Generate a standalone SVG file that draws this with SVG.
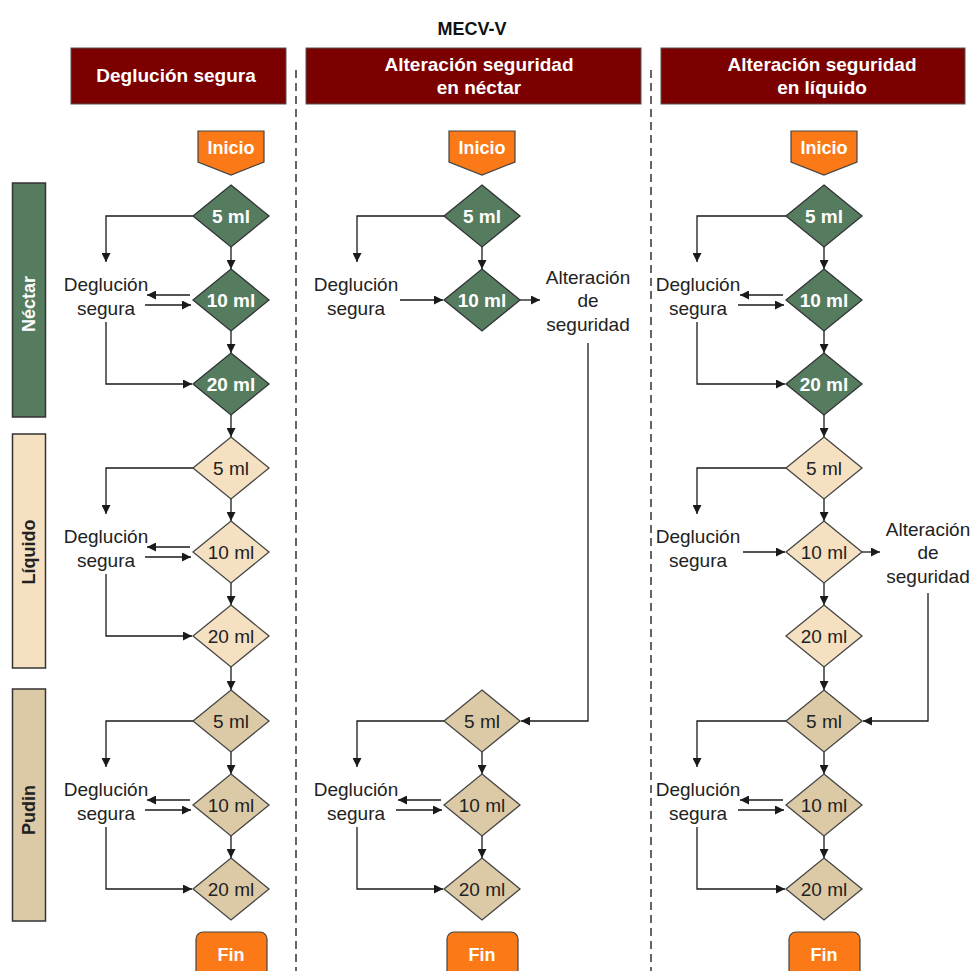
<svg xmlns="http://www.w3.org/2000/svg" width="974" height="971" viewBox="0 0 974 971">
<defs>
<marker id="ah" markerWidth="9" markerHeight="9" refX="9" refY="4.5" orient="auto" markerUnits="userSpaceOnUse">
<path d="M0,0 L9,4.5 L0,9 z" fill="#1a1a1a"/>
</marker>
<style>
.hdr{fill:#7b0000;stroke:#555;stroke-width:1}
.ht{font-family:"Liberation Sans",Arial,sans-serif;font-weight:bold;font-size:19px;fill:#fff;text-anchor:middle}
.title{font-family:"Liberation Sans",Arial,sans-serif;font-weight:bold;font-size:18px;fill:#111;text-anchor:middle}
.org{fill:#fb7a17;stroke:#444;stroke-width:1.2}
.ot{font-family:"Liberation Sans",Arial,sans-serif;font-weight:bold;font-size:18px;fill:#fff;text-anchor:middle}
.dn{fill:#557c5f;stroke:#333;stroke-width:1.3}
.dl{fill:#f5e1c2;stroke:#444;stroke-width:1.3}
.dp{fill:#dccaa7;stroke:#444;stroke-width:1.3}
.tn{font-family:"Liberation Sans",Arial,sans-serif;font-weight:bold;font-size:19px;fill:#fff;text-anchor:middle}
.tl{font-family:"Liberation Sans",Arial,sans-serif;font-size:19px;fill:#222;text-anchor:middle}
.lab{font-family:"Liberation Sans",Arial,sans-serif;font-size:19px;fill:#222;text-anchor:middle}
.bar{stroke:#333;stroke-width:1.5}
.bt{font-family:"Liberation Sans",Arial,sans-serif;font-weight:bold;font-size:18px;text-anchor:middle}
.c{fill:none;stroke:#1a1a1a;stroke-width:1.3}
.a{fill:none;stroke:#1a1a1a;stroke-width:1.3;marker-end:url(#ah)}
.dash{fill:none;stroke:#333;stroke-width:1.5;stroke-dasharray:8 5}
</style>
</defs>

<text class="title" x="472" y="35">MECV-V</text>

<g id="dividers">
<line class="dash" x1="296" y1="70" x2="296" y2="971"/>
<line class="dash" x1="651" y1="70" x2="651" y2="971"/>
</g>

<g id="header1"><rect class="hdr" x="71" y="48" width="215" height="56"/><text class="ht" x="176" y="82">Deglución segura</text></g>
<g id="header2"><rect class="hdr" x="306" y="48" width="335" height="56"/><text class="ht" x="479" y="71">Alteración seguridad</text><text class="ht" x="479" y="94">en néctar</text></g>
<g id="header3"><rect class="hdr" x="661" y="48" width="304" height="56"/><text class="ht" x="822" y="71">Alteración seguridad</text><text class="ht" x="822" y="94">en líquido</text></g>

<g id="bar-nectar"><rect class="bar" x="12.5" y="183" width="33" height="234" fill="#557c5f"/><text class="bt" fill="#fff" transform="translate(35,304) rotate(-90)">Néctar</text></g>
<g id="bar-liquido"><rect class="bar" x="12.5" y="434" width="33" height="234" fill="#f5e1c2"/><text class="bt" fill="#222" transform="translate(35,552) rotate(-90)">Líquido</text></g>
<g id="bar-pudin"><rect class="bar" x="12.5" y="689" width="33" height="232" fill="#dccaa7"/><text class="bt" fill="#222" transform="translate(35,810) rotate(-90)">Pudin</text></g>

<g id="connectors">
<path class="a" d="M231,247 V269"/>
<path class="a" d="M231,331 V353"/>
<path class="a" d="M231,415 V437"/>
<path class="a" d="M231,499 V521"/>
<path class="a" d="M231,583 V605"/>
<path class="a" d="M231,667 V690"/>
<path class="a" d="M231,752 V774"/>
<path class="a" d="M231,836 V858"/>
<path class="a" d="M193,216 H106 V262"/>
<path class="a" d="M190,295 H147"/>
<path class="a" d="M145,305 H191"/>
<path class="a" d="M106,322 V384 H192"/>
<path class="a" d="M193,468 H106 V514"/>
<path class="a" d="M190,547 H147"/>
<path class="a" d="M145,557 H191"/>
<path class="a" d="M106,574 V636 H192"/>
<path class="a" d="M193,721 H106 V767"/>
<path class="a" d="M190,800 H147"/>
<path class="a" d="M145,810 H191"/>
<path class="a" d="M106,827 V889 H192"/>

<path class="a" d="M482,247 V269"/>
<path class="a" d="M444,216 H357 V262"/>
<path class="a" d="M400,300 H443"/>
<path class="a" d="M520,300 H540"/>
<path class="a" d="M588,343 V721 H521"/>
<path class="a" d="M482,752 V774"/>
<path class="a" d="M482,836 V858"/>
<path class="a" d="M444,721 H357 V767"/>
<path class="a" d="M441,800 H398"/>
<path class="a" d="M396,810 H442"/>
<path class="a" d="M357,827 V889 H443"/>

<path class="a" d="M824,247 V269"/>
<path class="a" d="M824,331 V353"/>
<path class="a" d="M824,415 V437"/>
<path class="a" d="M824,499 V521"/>
<path class="a" d="M824,583 V605"/>
<path class="a" d="M824,667 V690"/>
<path class="a" d="M824,752 V774"/>
<path class="a" d="M824,836 V858"/>
<path class="a" d="M786,216 H697 V262"/>
<path class="a" d="M783,295 H740"/>
<path class="a" d="M738,305 H784"/>
<path class="a" d="M697,322 V384 H785"/>
<path class="a" d="M786,468 H697 V514"/>
<path class="a" d="M743,552 H785"/>
<path class="a" d="M862,552 H880"/>
<path class="a" d="M928,593 V721 H863"/>
<path class="a" d="M786,721 H697 V767"/>
<path class="a" d="M783,800 H740"/>
<path class="a" d="M738,810 H784"/>
<path class="a" d="M697,827 V889 H785"/>
</g>

<g id="inicio1"><path class="org" d="M198,131 H264 V162 L231,175 L198,162 Z"/><text class="ot" x="231" y="154">Inicio</text></g>
<g id="inicio2"><path class="org" d="M449,131 H515 V162 L482,175 L449,162 Z"/><text class="ot" x="482" y="154">Inicio</text></g>
<g id="inicio3"><path class="org" d="M791,131 H857 V162 L824,175 L791,162 Z"/><text class="ot" x="824" y="154">Inicio</text></g>
<g id="fin1"><rect class="org" x="196" y="932" width="71" height="60" rx="7"/><text class="ot" x="231" y="961">Fin</text></g>
<g id="fin2"><rect class="org" x="447" y="932" width="71" height="60" rx="7"/><text class="ot" x="482" y="961">Fin</text></g>
<g id="fin3"><rect class="org" x="789" y="932" width="71" height="60" rx="7"/><text class="ot" x="824" y="961">Fin</text></g>

<g id="c1n5"><path class="dn" d="M231,185 L269,216 L231,247 L193,216 Z"/><text class="tn" x="231" y="223">5 ml</text></g>
<g id="c1n10"><path class="dn" d="M231,269 L269,300 L231,331 L193,300 Z"/><text class="tn" x="231" y="307">10 ml</text></g>
<g id="c1n20"><path class="dn" d="M231,353 L269,384 L231,415 L193,384 Z"/><text class="tn" x="231" y="391">20 ml</text></g>
<g id="c1l5"><path class="dl" d="M231,437 L269,468 L231,499 L193,468 Z"/><text class="tl" x="231" y="475">5 ml</text></g>
<g id="c1l10"><path class="dl" d="M231,521 L269,552 L231,583 L193,552 Z"/><text class="tl" x="231" y="559">10 ml</text></g>
<g id="c1l20"><path class="dl" d="M231,605 L269,636 L231,667 L193,636 Z"/><text class="tl" x="231" y="643">20 ml</text></g>
<g id="c1p5"><path class="dp" d="M231,690 L269,721 L231,752 L193,721 Z"/><text class="tl" x="231" y="728">5 ml</text></g>
<g id="c1p10"><path class="dp" d="M231,774 L269,805 L231,836 L193,805 Z"/><text class="tl" x="231" y="812">10 ml</text></g>
<g id="c1p20"><path class="dp" d="M231,858 L269,889 L231,920 L193,889 Z"/><text class="tl" x="231" y="896">20 ml</text></g>

<g id="c2n5"><path class="dn" d="M482,185 L520,216 L482,247 L444,216 Z"/><text class="tn" x="482" y="223">5 ml</text></g>
<g id="c2n10"><path class="dn" d="M482,269 L520,300 L482,331 L444,300 Z"/><text class="tn" x="482" y="307">10 ml</text></g>
<g id="c2p5"><path class="dp" d="M482,690 L520,721 L482,752 L444,721 Z"/><text class="tl" x="482" y="728">5 ml</text></g>
<g id="c2p10"><path class="dp" d="M482,774 L520,805 L482,836 L444,805 Z"/><text class="tl" x="482" y="812">10 ml</text></g>
<g id="c2p20"><path class="dp" d="M482,858 L520,889 L482,920 L444,889 Z"/><text class="tl" x="482" y="896">20 ml</text></g>

<g id="c3n5"><path class="dn" d="M824,185 L862,216 L824,247 L786,216 Z"/><text class="tn" x="824" y="223">5 ml</text></g>
<g id="c3n10"><path class="dn" d="M824,269 L862,300 L824,331 L786,300 Z"/><text class="tn" x="824" y="307">10 ml</text></g>
<g id="c3n20"><path class="dn" d="M824,353 L862,384 L824,415 L786,384 Z"/><text class="tn" x="824" y="391">20 ml</text></g>
<g id="c3l5"><path class="dl" d="M824,437 L862,468 L824,499 L786,468 Z"/><text class="tl" x="824" y="475">5 ml</text></g>
<g id="c3l10"><path class="dl" d="M824,521 L862,552 L824,583 L786,552 Z"/><text class="tl" x="824" y="559">10 ml</text></g>
<g id="c3l20"><path class="dl" d="M824,605 L862,636 L824,667 L786,636 Z"/><text class="tl" x="824" y="643">20 ml</text></g>
<g id="c3p5"><path class="dp" d="M824,690 L862,721 L824,752 L786,721 Z"/><text class="tl" x="824" y="728">5 ml</text></g>
<g id="c3p10"><path class="dp" d="M824,774 L862,805 L824,836 L786,805 Z"/><text class="tl" x="824" y="812">10 ml</text></g>
<g id="c3p20"><path class="dp" d="M824,858 L862,889 L824,920 L786,889 Z"/><text class="tl" x="824" y="896">20 ml</text></g>

<g id="lab-c1n"><text class="lab" x="106" y="291">Deglución</text><text class="lab" x="106" y="315">segura</text></g>
<g id="lab-c1l"><text class="lab" x="106" y="543">Deglución</text><text class="lab" x="106" y="567">segura</text></g>
<g id="lab-c1p"><text class="lab" x="106" y="796">Deglución</text><text class="lab" x="106" y="820">segura</text></g>
<g id="lab-c2n"><text class="lab" x="356" y="291">Deglución</text><text class="lab" x="356" y="315">segura</text></g>
<g id="lab-c2alt"><text class="lab" x="588" y="284">Alteración</text><text class="lab" x="588" y="307">de</text><text class="lab" x="588" y="331">seguridad</text></g>
<g id="lab-c2p"><text class="lab" x="356" y="796">Deglución</text><text class="lab" x="356" y="820">segura</text></g>
<g id="lab-c3n"><text class="lab" x="698" y="291">Deglución</text><text class="lab" x="698" y="315">segura</text></g>
<g id="lab-c3l"><text class="lab" x="698" y="543">Deglución</text><text class="lab" x="698" y="567">segura</text></g>
<g id="lab-c3alt"><text class="lab" x="928" y="536">Alteración</text><text class="lab" x="928" y="559">de</text><text class="lab" x="928" y="583">seguridad</text></g>
<g id="lab-c3p"><text class="lab" x="698" y="796">Deglución</text><text class="lab" x="698" y="820">segura</text></g>
</svg>
